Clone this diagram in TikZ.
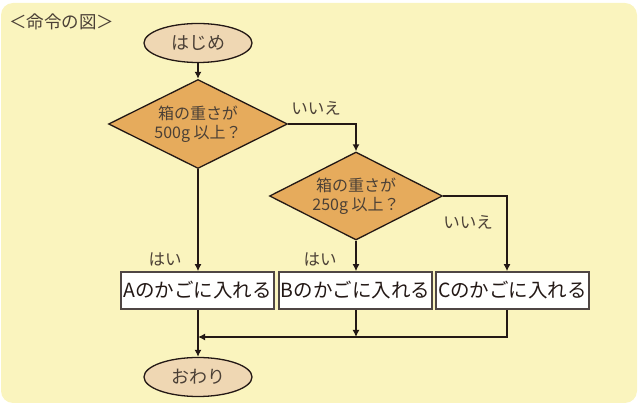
\documentclass[tikz,border=0pt]{standalone}
\usepackage{fontspec}
\setmainfont{Noto Sans CJK JP}
\usepackage{xcolor}
\usetikzlibrary{positioning}
\usetikzlibrary{shapes.geometric,arrows.meta}
\definecolor{bgyellow}{HTML}{FAF4BE}
\definecolor{diafill}{HTML}{E6AB5C}
\definecolor{ovalfill}{HTML}{EFD7B3}
\definecolor{inkgray}{HTML}{4B4036}
\definecolor{linedark}{HTML}{231815}

\begin{document}
\begin{tikzpicture}
                [x=1pt, y=-1pt,
                 oval/.style = {ellipse, draw=linedark, line width=1.3pt, fill=ovalfill, minimum width=108pt, minimum height=39pt, inner sep=0pt, text=inkgray, font=\fontsize{18}{20}\selectfont},
                 ask/.style = {diamond, aspect=2, draw=linedark, line width=1.3pt, fill=diafill, minimum width=179pt, minimum height=89pt, inner sep=0pt, align=center, text=inkgray, font=\fontsize{16}{18.5}\selectfont},
                 basket/.style = {rectangle, draw=linedark!80, line width=1.6pt, fill=white, minimum width=153pt, minimum height=37pt, inner sep=0pt, text=linedark, font=\fontsize{19.5}{21}\selectfont},
                 word/.style = {text=inkgray, font=\fontsize{16.5}{18}\selectfont, inner sep=0pt},
                 flow/.style = {draw=linedark, line width=1.5pt, -{Latex[length=7pt,width=7pt]}}]
                % Background
                \useasboundingbox (0,0) rectangle (638,403);
                \fill[bgyellow] (1,3) [rounded corners=12pt] rectangle (637,403);
                % Title
                \node[word, anchor=west, font=\fontsize{17.5}{19}\selectfont] (title) at (9,22) {＜命令の図＞};
                % Start and end
                \node[oval] (start) at (198,43) {はじめ};
                \node[oval] (stop) at (198,377) {おわり};
                % Questions
                \node[ask] (q500) at (198,124) {箱の重さが\\500g 以上？};
                \node[ask, minimum width=173pt, minimum height=88pt] (q250) at (356,196) {箱の重さが\\250g 以上？};
                % Baskets
                \node[basket] (a) at (197.5,290.5) {Aのかごに入れる};
                \node[basket] (b) at (355.5,290.5) {Bのかごに入れる};
                \node[basket] (c) at (512.5,290.5) {Cのかごに入れる};
                % Answers
                \node[word] (no1) at (316,108) {いいえ};
                \node[word] (no2) at (468,222) {いいえ};
                \node[word] (yes1) at (165,259) {はい};
                \node[word] (yes2) at (320,259) {はい};
                % Merge point
                \coordinate (join) at (198,337);
                % Lines
                \path[flow] (start) -- (q500);
                \path[flow] (q500.east) -| (q250.north);
                \path[flow] (q500.south) -- (a.north -| q500.south);
                \path[flow] (q250.south) -- (b.north -| q250.south);
                \path[flow] (q250.east) -| ([xshift=-5.5pt]c.north);
                \path[flow] (a.south -| join) -- (stop.north);
                \path[flow] (b.south -| q250.south) -- (join -| q250.south);
                \path[flow] ([xshift=-5.5pt]c.south) |- (join);
            \end{tikzpicture}
\end{document}
